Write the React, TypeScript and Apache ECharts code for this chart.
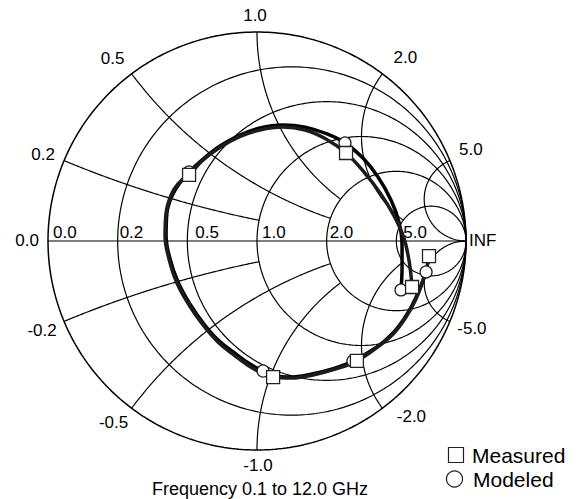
import React, { useEffect, useRef } from "react";
import * as echarts from "echarts";

// Smith chart structure
const resistanceCircles = [0, 0.2, 0.5, 1, 2, 5];
const reactanceArcs = [0.2, 0.5, 1, 2, 5];
const reactanceArcEnds = [1, 2, 2, 5, Infinity]; // resistance circle where each arc stops
const resistanceLabels = ["0.0", "0.2", "0.5", "1.0", "2.0", "5.0"];
const reactancePosLabels = ["0.2", "0.5", "1.0", "2.0", "5.0"];
const reactanceNegLabels = ["-0.2", "-0.5", "-1.0", "-2.0", "-5.0"];
const outerZeroLabel = "0.0";
const infLabel = "INF";
const footnote = "Frequency 0.1 to 12.0 GHz";
const legendMeasured = "Measured";
const legendModeled = "Modeled";

const measuredRe = [0.823, 0.813, 0.789, 0.756, 0.713, 0.656, 0.584, 0.478, 0.378, 0.268, 0.163, 0.077, 0.024, -0.038, -0.105, -0.187, -0.258, -0.325, -0.383, -0.421, -0.440, -0.435, -0.411, -0.378, -0.325, -0.263, -0.182, -0.086, 0.014, 0.124, 0.230, 0.330, 0.426, 0.512, 0.589, 0.656, 0.703, 0.727, 0.737, 0.742];
const measuredIm = [-0.072, -0.124, -0.206, -0.287, -0.364, -0.440, -0.502, -0.574, -0.612, -0.641, -0.656, -0.651, -0.632, -0.598, -0.550, -0.483, -0.402, -0.306, -0.201, -0.086, 0.024, 0.134, 0.220, 0.273, 0.316, 0.383, 0.445, 0.498, 0.531, 0.545, 0.531, 0.488, 0.421, 0.330, 0.230, 0.120, 0.014, -0.091, -0.167, -0.220];
const measuredMarkerIdx = [0, 7, 11, 24, 32, 39];

const modeledRe = [0.809, 0.780, 0.746, 0.703, 0.646, 0.574, 0.459, 0.373, 0.263, 0.158, 0.086, 0.029, -0.033, -0.100, -0.182, -0.254, -0.321, -0.378, -0.416, -0.435, -0.431, -0.407, -0.373, -0.325, -0.258, -0.177, -0.081, 0.014, 0.124, 0.230, 0.335, 0.421, 0.507, 0.579, 0.641, 0.679, 0.694, 0.694, 0.689];
const modeledIm = [-0.148, -0.225, -0.301, -0.373, -0.445, -0.507, -0.574, -0.608, -0.636, -0.651, -0.646, -0.622, -0.589, -0.541, -0.478, -0.397, -0.301, -0.196, -0.086, 0.024, 0.134, 0.215, 0.273, 0.330, 0.392, 0.455, 0.507, 0.541, 0.555, 0.545, 0.512, 0.469, 0.397, 0.306, 0.196, 0.091, -0.019, -0.129, -0.234];
const modeledMarkerIdx = [0, 6, 11, 23, 31, 38];

const FONT = '"Liberation Sans", Arial, Helvetica, sans-serif';

function gamma(r: number, x: number): number[] {
  const d = (r + 1) * (r + 1) + x * x;
  return [(r * r + x * x - 1) / d, (2 * x) / d];
}

function gridLine(pts: number[][], width: number) {
  return {
    type: "line",
    data: pts,
    showSymbol: false,
    symbol: "none",
    silent: true,
    clip: false,
    z: 1,
    lineStyle: { color: "#000", width },
  };
}

export default function App() {
  const ref = useRef<HTMLDivElement>(null);
  useEffect(() => {
    const chart = echarts.init(ref.current!, null, { renderer: "svg" });
    const series: any[] = [];
    resistanceCircles.forEach((r) => {
      const c = r / (1 + r);
      const rho = 1 / (1 + r);
      const pts: number[][] = [];
      for (let i = 0; i <= 360; i++) {
        const t = (i * Math.PI) / 180;
        pts.push([c + rho * Math.cos(t), rho * Math.sin(t)]);
      }
      series.push(gridLine(pts, r === 0 ? 1.5 : 1.2));
    });
    reactanceArcs.forEach((x, k) => {
      const end = reactanceArcEnds[k];
      [x, -x].forEach((xs) => {
        const pts: number[][] = [];
        const N = 240;
        for (let i = 0; i <= N; i++) {
          const s = i / N;
          if (isFinite(end)) {
            pts.push(gamma(end * s, xs));
          } else if (i === N) {
            pts.push([1, 0]);
          } else {
            pts.push(gamma(s / (1 - s), xs));
          }
        }
        series.push(gridLine(pts, 1.2));
      });
    });
    series.push(gridLine([[-1, 0], [1, 0]], 1.2));

    const measured = measuredRe.map((v, i) => [v, measuredIm[i]]);
    const modeled = modeledRe.map((v, i) => [v, modeledIm[i]]);

    series.push({
      type: "line", name: "Modeled trace", data: modeled, showSymbol: false, symbol: "none",
      smooth: 0.4, clip: false, z: 3, lineStyle: { color: "#000", width: 3.5 },
    });
    series.push({
      type: "line", name: "Measured trace", data: measured, showSymbol: false, symbol: "none",
      smooth: 0.4, clip: false, z: 3, lineStyle: { color: "#1c1c1c", width: 3.5 },
    });
    series.push({
      type: "scatter", name: "Modeled", data: modeledMarkerIdx.map((i) => modeled[i]),
      symbol: "circle", symbolSize: 12, z: 4, clip: false,
      itemStyle: { color: "#fff", borderColor: "#222", borderWidth: 1.3, opacity: 1 },
    });
    series.push({
      type: "scatter", name: "Measured", data: measuredMarkerIdx.map((i) => measured[i]),
      symbol: "rect", symbolSize: 13, z: 5, clip: false,
      itemStyle: { color: "#fff", borderColor: "#222", borderWidth: 1.3, opacity: 1 },
    });

    chart.setOption({
      animation: false,
      backgroundColor: "#fff",
      grid: { left: 48, top: 32, width: 418, height: 418 },
      xAxis: { type: "value", min: -1, max: 1, show: false },
      yAxis: { type: "value", min: -1, max: 1, show: false },
      series,
    });

    const toPx = (g: number[]) => chart.convertToPixel({ gridIndex: 0 }, g) as number[];
    const txt = (text: string, p: number[], dx: number, dy: number, align = "center", size = 17) => ({
      type: "text",
      x: p[0] + dx,
      y: p[1] + dy,
      silent: true,
      style: { text, fill: "#000", font: `${size}px ${FONT}`, align, verticalAlign: "middle" },
    });

    const posOffsets = [[-21, -6], [-19, -15], [-2, -17], [23, -16], [21, -11]];
    const negOffsets = [[-22, 9], [-18, 14], [1, 15], [29, 8], [22, 7]];
    const innerOffsets = [5, 2, 8, 5, 3, 7];
    const graphic: any[] = [];
    reactanceArcs.forEach((x, k) => {
      graphic.push(txt(reactancePosLabels[k], toPx(gamma(0, x)), posOffsets[k][0], posOffsets[k][1]));
      graphic.push(txt(reactanceNegLabels[k], toPx(gamma(0, -x)), negOffsets[k][0], negOffsets[k][1]));
    });
    graphic.push(txt(outerZeroLabel, toPx([-1, 0]), -9, -1, "right"));
    graphic.push(txt(infLabel, toPx([1, 0]), 3, -1, "left"));
    resistanceCircles.forEach((r, k) => {
      graphic.push(txt(resistanceLabels[k], toPx([(r - 1) / (r + 1), 0]), innerOffsets[k], -9, "left"));
    });
    graphic.push({
      type: "text", x: 260, y: 489, silent: true,
      style: { text: footnote, fill: "#000", font: `18px ${FONT}`, align: "center", verticalAlign: "middle" },
    });
    graphic.push({
      type: "rect", shape: { x: 448.5, y: 447.5, width: 15, height: 15 }, silent: true,
      style: { fill: "#fff", stroke: "#222", lineWidth: 1.2 },
    });
    graphic.push({
      type: "text", x: 472, y: 455, silent: true,
      style: { text: legendMeasured, fill: "#000", font: `21px ${FONT}`, align: "left", verticalAlign: "middle" },
    });
    graphic.push({
      type: "circle", shape: { cx: 454.5, cy: 479, r: 8 }, silent: true,
      style: { fill: "#fff", stroke: "#222", lineWidth: 1.2 },
    });
    graphic.push({
      type: "text", x: 473, y: 479, silent: true,
      style: { text: legendModeled, fill: "#000", font: `21px ${FONT}`, align: "left", verticalAlign: "middle" },
    });
    chart.setOption({ graphic });

    return () => chart.dispose();
  }, []);
  return (
    <div
      ref={ref}
      style={{ position: "fixed", left: 0, top: 0, width: 582, height: 499, background: "#fff" }}
    />
  );
}
